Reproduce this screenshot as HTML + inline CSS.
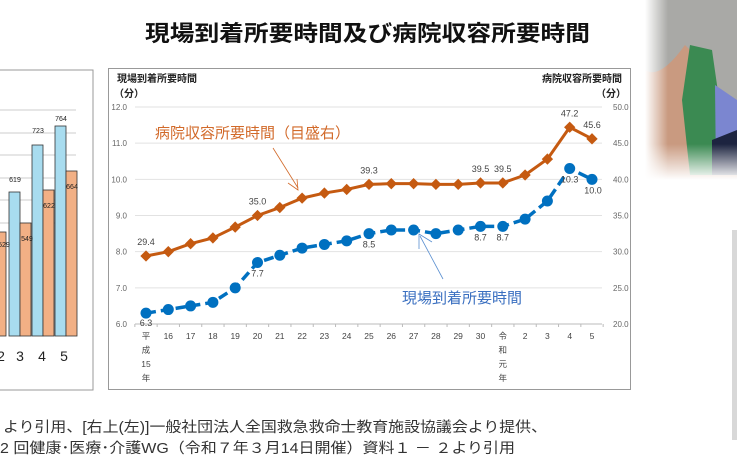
<!DOCTYPE html>
<html><head><meta charset="utf-8"><style>
body{margin:0;width:737px;height:457px;overflow:hidden;background:#fff;font-family:"Liberation Sans","Noto Sans CJK JP",sans-serif}
</style></head><body>
<svg id="s" width="737" height="457" xmlns="http://www.w3.org/2000/svg" font-family="Liberation Sans, Noto Sans CJK JP, sans-serif">
<defs>
<linearGradient id="fade" x1="0" y1="0" x2="0" y2="1"><stop offset="0.8" stop-color="#fff" stop-opacity="0"/><stop offset="1" stop-color="#fff"/></linearGradient>
<linearGradient id="fadeL" x1="0" y1="0" x2="1" y2="0"><stop offset="0" stop-color="#fff"/><stop offset="0.25" stop-color="#fff" stop-opacity="0"/></linearGradient>
</defs>
<rect x="645" y="0" width="92" height="180" fill="#a9a9a6"/>
<path d="M645 70 Q660 80 685 45 L700 60 L720 90 L737 100 L737 180 L645 180Z" fill="#c99a80"/>
<path d="M690 45 L712 50 L722 120 L720 175 L690 175 L682 100Z" fill="#3b8a52"/>
<path d="M715 85 L737 100 L737 175 L716 175Z" fill="#7b86d0"/>
<path d="M712 140 L737 130 L737 175 L712 175Z" fill="#1d2440"/>
<rect x="645" y="0" width="92" height="180" fill="url(#fade)"/>
<rect x="645" y="0" width="92" height="180" fill="url(#fadeL)"/>
<rect x="732" y="230" width="5" height="210" fill="#c8c8c8" opacity="0.7"/>
<text x="145" y="41" font-size="22" font-weight="bold" fill="#111" textLength="445" lengthAdjust="spacingAndGlyphs">現場到着所要時間及び病院収容所要時間</text>
<rect x="-2" y="70" width="95" height="320" fill="#fff" stroke="#999"/>
<g stroke="#bbb" stroke-width="0.8"><line x1="0" y1="110" x2="76" y2="110"/><line x1="0" y1="133" x2="76" y2="133"/><line x1="0" y1="155" x2="76" y2="155"/><line x1="0" y1="178" x2="76" y2="178"/><line x1="0" y1="200" x2="76" y2="200"/><line x1="0" y1="223" x2="76" y2="223"/></g>
<g stroke="#333" stroke-width="0.8">
<rect x="-2" y="232" width="8" height="104" fill="#f2b085"/>
<rect x="9" y="192" width="11" height="144" fill="#a8dcef"/>
<rect x="20" y="223" width="11" height="113" fill="#f2b085"/>
<rect x="32" y="145" width="11" height="191" fill="#a8dcef"/>
<rect x="43" y="190" width="11" height="146" fill="#f2b085"/>
<rect x="55" y="126" width="11" height="210" fill="#a8dcef"/>
<rect x="66" y="171" width="11" height="165" fill="#f2b085"/>
</g>
<g font-size="7" fill="#222" text-anchor="middle"><text x="4" y="247">529</text><text x="15" y="182">619</text><text x="27" y="241">549</text><text x="38" y="133">723</text><text x="49" y="208">622</text><text x="61" y="121">764</text><text x="72" y="189">664</text></g>
<g font-size="14" fill="#222" text-anchor="middle"><text x="1" y="361">2</text><text x="20" y="361">3</text><text x="42" y="361">4</text><text x="64" y="361">5</text></g>
<rect x="108.5" y="68.5" width="522" height="321" fill="#fff" stroke="#999"/>
<g id="grid" stroke="#ddd" stroke-width="1"></g>
<g id="g"></g>
<text x="117" y="82" font-size="10" font-weight="bold" fill="#222">現場到着所要時間</text>
<text x="114" y="97" font-size="10" font-weight="bold" fill="#222">（分）</text>
<text x="622" y="82" font-size="10" font-weight="bold" fill="#222" text-anchor="end">病院収容所要時間</text>
<text x="626" y="97" font-size="10" font-weight="bold" fill="#222" text-anchor="end">（分）</text>
<text x="155" y="138" font-size="15" fill="#d26a2a">病院収容所要時間（目盛右）</text>
<line x1="273" y1="148" x2="298" y2="188" stroke="#d26a2a" stroke-width="0.8"/>
<path d="M288 183 L298 190 L297 179" fill="none" stroke="#d26a2a" stroke-width="0.8"/>
<text x="402" y="303" font-size="15" fill="#3a6fc0">現場到着所要時間</text>
<line x1="443" y1="279" x2="420" y2="236" stroke="#5a8fd0" stroke-width="0.8"/>
<path d="M419 249 L419 234 L432 242" fill="none" stroke="#5a8fd0" stroke-width="0.8"/>
<text x="3" y="432" font-size="14.5" fill="#333" textLength="544" lengthAdjust="spacingAndGlyphs">より引用、[右上(左)]一般社団法人全国救急救命士教育施設協議会より提供、</text>
<text x="0" y="453" font-size="14.5" fill="#333" textLength="515" lengthAdjust="spacingAndGlyphs">2 回健康･医療･介護WG（令和７年３月14日開催）資料１ － ２より引用</text>
</svg>
<script>
var ns="http://www.w3.org/2000/svg",g=document.getElementById('g'),gr=document.getElementById('grid');
function el(t,a,p){var e=document.createElementNS(ns,t);for(var k in a)e.setAttribute(k,a[k]);(p||g).appendChild(e);return e}
function tx(x,y,s,o){var e=el('text',Object.assign({x:x,y:y,'font-size':9,fill:'#444'},o||{}));e.textContent=s;return e}
for(var i=0;i<=6;i++){var y=107+i*36.17;el('line',{x1:135,y1:y,x2:602,y2:y,stroke:i==6?'#bbb':'#e2e2e2'},gr);
tx(127,y+3,(12-i).toFixed(1),{'text-anchor':'end','font-size':8,fill:'#666'});tx(613,y+3,(50-5*i).toFixed(1),{'font-size':8,fill:'#666'});}
var X=function(i){return 146+i*22.3};
for(var i=0;i<=21;i++)el('line',{x1:X(i)-11.15,y1:324,x2:X(i)-11.15,y2:327,stroke:'#bbb'},gr);
var lab=['平\n成\n15\n年','16','17','18','19','20','21','22','23','24','25','26','27','28','29','30','令\n和\n元\n年','2','3','4','5'];
lab.forEach(function(l,i){l.split('\n').forEach(function(s,j){tx(X(i),339+j*14,s,{'text-anchor':'middle','font-size':8.5,fill:'#444'})})});
var b=[6.3,6.4,6.5,6.6,7.0,7.7,7.9,8.1,8.2,8.3,8.5,8.6,8.6,8.5,8.6,8.7,8.7,8.9,9.4,10.3,10.0];
var r=[29.4,30.0,31.1,31.9,33.4,35.0,36.1,37.4,38.1,38.6,39.3,39.4,39.4,39.3,39.3,39.5,39.5,40.6,42.8,47.2,45.6];
var bp=b.map(function(v,i){return [X(i),107+(12-v)*36.17]}),rp=r.map(function(v,i){return [X(i),107+(50-v)*7.233]});
el('polyline',{points:rp.join(' '),fill:'none',stroke:'#c55a11','stroke-width':3,'stroke-linejoin':'round'});
rp.forEach(function(p){el('rect',{x:p[0]-4,y:p[1]-4,width:8,height:8,fill:'#c55a11',transform:'rotate(45 '+p[0]+' '+p[1]+')'})});
el('polyline',{points:bp.join(' '),fill:'none',stroke:'#0070c0','stroke-width':3.5,'stroke-dasharray':'10 5'});
bp.forEach(function(p){el('circle',{cx:p[0],cy:p[1],r:5.5,fill:'#0070c0'})});
[[0,'29.4',-11],[5,'35.0',-11],[10,'39.3',-11],[15,'39.5',-11],[16,'39.5',-11],[19,'47.2',-11],[20,'45.6',-11]].forEach(function(a){tx(rp[a[0]][0],rp[a[0]][1]+a[2],a[1],{'text-anchor':'middle'})});
[[0,'6.3',13],[5,'7.7',14],[10,'8.5',14],[15,'8.7',14],[16,'8.7',14],[19,'10.3',14],[20,'10.0',14]].forEach(function(a){tx(bp[a[0]][0]+(a[0]==20?1:0),bp[a[0]][1]+a[2],a[1],{'text-anchor':'middle'})});
</script>
</body></html>
